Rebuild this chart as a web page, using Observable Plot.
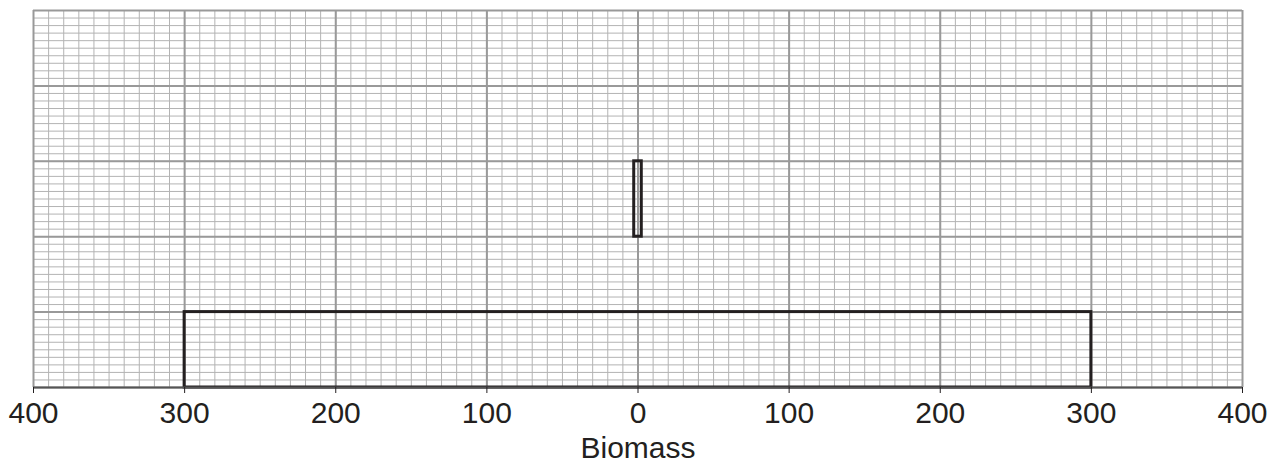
<!DOCTYPE html>
<html><head><meta charset="utf-8">
<script src="https://cdn.jsdelivr.net/npm/d3@7"></script>
<script src="https://cdn.jsdelivr.net/npm/@observablehq/plot@0.6"></script>
<style>body{margin:0;background:#fff}</style>
</head><body><div id="chart"></div>
<script>
// Pyramid of biomass drawn on graph paper
const trophicLevels = [1, 3];          // level index counted from the bottom
const biomassValues = [600, 5];        // total width of each bar (symmetric around 0)
const xTickValues = [-400, -300, -200, -100, 0, 100, 200, 300, 400];
const levelCount = 5;

const bars = trophicLevels.map((l, i) => ({level: l, biomass: biomassValues[i]}));
const minorX = d3.range(-400, 401, 10);
const majorX = d3.range(-400, 401, 100);
const minorY = d3.range(0, levelCount * 10 + 1).map(d => d / 10);
const majorY = d3.range(0, levelCount + 1);

const chart = Plot.plot({
  width: 1279,
  height: 468,
  marginLeft: 33,
  marginRight: 37,
  marginTop: 10,
  marginBottom: 81,
  style: {fontFamily: "Liberation Sans, Arial, sans-serif", fontSize: "30px", color: "#231f20", background: "#fff"},
  x: {domain: [-400, 400]},
  y: {domain: [0, levelCount], axis: null},
  marks: [
    Plot.ruleX(minorX, {stroke: "#b3b3b3", strokeWidth: 1}),
    Plot.ruleY(minorY, {stroke: "#b3b3b3", strokeWidth: 1}),
    Plot.ruleX(majorX, {stroke: "#999", strokeWidth: 2}),
    Plot.ruleY(majorY, {stroke: "#999", strokeWidth: 2}),
    Plot.rect(bars, {x1: d => -d.biomass / 2, x2: d => d.biomass / 2, y1: d => d.level - 1, y2: d => d.level, fill: "none", stroke: "#231f20", strokeWidth: 3}),
    Plot.ruleY([0], {stroke: "#555", strokeWidth: 2}),
    Plot.axisX({ticks: xTickValues, tickFormat: d => Math.abs(d), tickSize: 6, tickPadding: 8, stroke: "#231f20", fontSize: 30,
      label: "Biomass", labelAnchor: "center", labelArrow: "none", labelOffset: 70})
  ]
});
document.getElementById("chart").append(chart);
</script>
</body></html>
